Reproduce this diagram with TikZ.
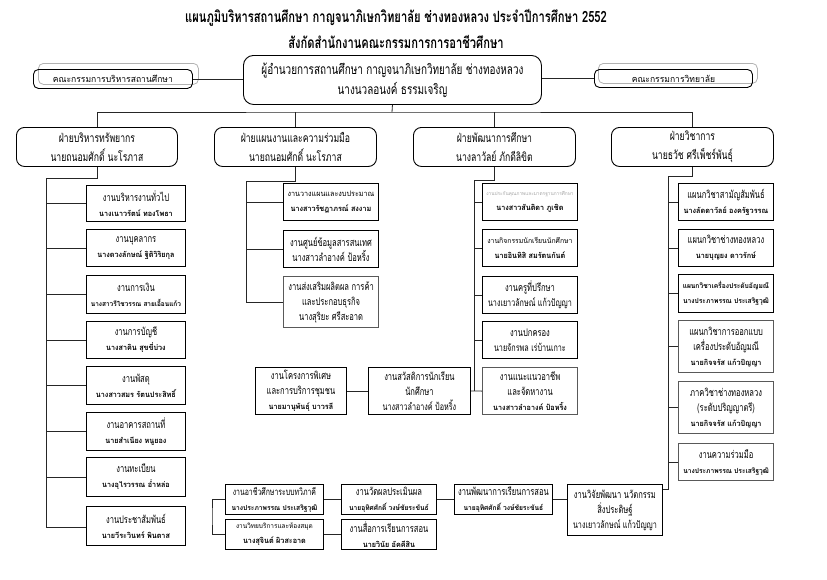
\documentclass[tikz,border=0pt]{standalone}
\usepackage{fontspec}
\setmainfont[Script=Thai]{Loma}
\newfontfamily\thaicond[Script=Thai,FakeStretch=0.72]{Loma}
\newfontfamily\thainm[Script=Thai,FakeStretch=0.95]{Loma}
\tikzset{
  conn/.style={draw=black!85, line width=0.8pt},
  rbox/.style={draw, line width=0.9pt, rounded corners=8pt, inner sep=0pt, align=center, fill=white},
  sbox/.style={draw, line width=0.9pt, inner sep=0pt, align=center, fill=white},
  gbox/.style={sbox, draw=black!65, line width=1.2pt},
  shadowbox/.style={draw=black!30, line width=0.8pt, rounded corners=5pt, inner sep=0pt},
  lab/.style={font=\thaicond\fontsize{10.5}{15}\selectfont},
  deplab/.style={font=\thaicond\fontsize{12}{19}\selectfont},
}
\newcommand\nm[1]{{\thainm\bfseries\fontsize{7.6}{15}\selectfont #1}}
\newcommand\nms[2]{{\thainm\bfseries\fontsize{#1}{15}\selectfont #2}}
\newcommand\sm[2]{{\thainm\fontsize{#1}{15}\selectfont #2}}
\newcommand\bx[7]{%
  \pgfmathsetmacro\bw{#5-#3}\pgfmathsetmacro\bh{#6-#4}%
  \node[#2, anchor=north west, minimum width=\bw pt, minimum height=\bh pt] (#1) at (#3,#4) {#7};}
\begin{document}
\begin{tikzpicture}[x=1pt,y=-1pt]
\useasboundingbox (0,0) rectangle (827,579);
% title
\node[font=\thaicond\bfseries\fontsize{15.5}{16}\selectfont] (t1) at (396,18) {แผนภูมิบริหารสถานศึกษา กาญจนาภิเษกวิทยาลัย ช่างทองหลวง  ประจำปีการศึกษา 2552};
\node[font=\thaicond\bfseries\fontsize{15.5}{16}\selectfont] (t2) at (396,42) {สังกัดสำนักงานคณะกรรมการการอาชีวศึกษา};
% top level
\bx{lcs}{shadowbox}{38}{63}{198}{84}{}
\bx{rcs}{shadowbox}{598}{63}{757}{83}{}
\bx{lc}{rbox,rounded corners=5pt,fill=none}{33}{69}{192}{88}{\sm{9}{คณะกรรมการบริหารสถานศึกษา}}
\bx{rc}{rbox,rounded corners=5pt,fill=none}{594}{69}{752}{87}{\sm{9}{คณะกรรมการวิทยาลัย}}
\bx{ctr}{rbox,rounded corners=10pt,font=\thaicond\fontsize{13.8}{20}\selectfont}{243}{55}{541}{104}{ผู้อำนวยการสถานศึกษา กาญจนาภิเษกวิทยาลัย ช่างทองหลวง\\ นางนวลอนงค์ ธรรมเจริญ}
\draw[conn] (lc.east) -- (ctr.west |- lc.east);
\draw[conn] (rc.west) -- (ctr.east |- rc.west);
% departments
\bx{d1}{rbox,deplab}{16}{127}{177}{166}{ฝ่ายบริหารทรัพยากร\\ นายถนอมศักดิ์ นะโรภาส}
\bx{d2}{rbox,deplab}{214}{127}{376}{166}{ฝ่ายแผนงานและความร่วมมือ\\ นายถนอมศักดิ์ นะโรภาส}
\bx{d3}{rbox,deplab}{413}{127}{575}{166}{ฝ่ายพัฒนาการศึกษา\\ นางลาวัลย์ ภักดีลิขิต}
\bx{d4}{rbox,deplab}{611}{127}{773}{166}{ฝ่ายวิชาการ\\ นายธวัช ศรีเพ็ชร์พันธุ์}
\coordinate (bar) at (392,112);
\draw[conn] (ctr.south) -- (bar);
\draw[conn] (d1.north) |- (bar) -| (d4.north);
\draw[conn] (d2.north) -- (d2.north |- bar);
\draw[conn] (d3.north) -- (d3.north |- bar);
% column 1
\bx{a1}{sbox,lab}{86}{185}{185}{221}{งานบริหารงานทั่วไป\\ \nm{นางเนาวรัตน์ ทองโพธา}}
\bx{a2}{sbox,lab}{86}{229}{185}{266}{งานบุคลากร\\ \nm{นางดวงลักษณ์ ฐิติวิริยกุล}}
\bx{a3}{sbox,lab}{86}{275}{185}{313}{งานการเงิน\\ \nms{6.8}{นางสาวรีไชวรรณ สายเอื้อนแก้ว}}
\bx{a4}{sbox,lab}{86}{321}{185}{358}{งานการบัญชี\\ \nm{นางสาคิน สุขขี่บ่วง}}
\bx{a5}{sbox,lab}{86}{366}{185}{404}{งานพัสดุ\\ \nm{นางสาวสมร รัตนประสิทธิ์}}
\bx{a6}{sbox,lab}{86}{412}{185}{450}{งานอาคารสถานที่\\ \nm{นายสำเนียง หนูยอง}}
\bx{a7}{sbox,lab}{86}{457}{185}{496}{งานทะเบียน\\ \nm{นางอุไรวรรณ อ่ำหล่อ}}
\bx{a8}{sbox,lab}{86}{506}{185}{545}{งานประชาสัมพันธ์\\ \nm{นายวีระวินทร์ พินตาส}}
\coordinate (s1t) at (46,178);
\coordinate (s1b) at (46,527);
\draw[conn] (d1.south) |- (s1t) -- (s1b) -- (s1b -| a8.west);
\foreach \i in {1,...,7} {\draw[conn] (a\i.west) -- (a\i.west -| s1t);}
% column 2
\bx{b1}{sbox,lab}{283}{183}{378}{220}{\sm{7.6}{งานวางแผนและงบประมาณ}\\ \nm{นางสาวรัชฎาภรณ์ สงงาม}}
\bx{b2}{sbox,lab}{283}{230}{378}{267}{งานศูนย์ข้อมูลสารสนเทศ\\ นางสาวลำอางค์ ป้อหริ้ง}
\bx{b3}{gbox,lab}{283}{276}{378}{327}{งานส่งเสริมผลิตผล การค้า\\ และประกอบธุรกิจ\\ นางสุริยะ ศรีสะอาด}
\coordinate (s2t) at (246,181);
\coordinate (s2b) at (246,302);
\draw[conn] (d2.south) |- (s2t) -- (s2b) -- (s2b -| b3.west);
\foreach \i in {1,2} {\draw[conn] (b\i.west) -- (b\i.west -| s2t);}
% column 3
\bx{c1}{sbox,lab}{482}{183}{577}{220}{{\color{black!35}\thainm\fontsize{5}{15}\selectfont งานประกันคุณภาพและมาตรฐานการศึกษา}\\ \nm{นางสาวสันติดา ภูเชิด}}
\bx{c2}{sbox,lab}{482}{229}{577}{266}{\sm{7.2}{งานกิจกรรมนักเรียนนักศึกษา}\\ \nm{นายอินทิสิ สมรัตนกันต์}}
\bx{c3}{sbox,lab}{482}{276}{577}{313}{งานครูที่ปรึกษา\\ {\fontsize{10}{15}\selectfont นางเยาวลักษณ์ แก้วปัญญา}}
\bx{c4}{sbox,lab}{482}{321}{577}{358}{งานปกครอง\\ {\fontsize{10}{15}\selectfont นายจักรพล เร่บ้านเกาะ}}
\bx{c5}{gbox,lab}{482}{367}{577}{414}{งานแนะแนวอาชีพ\\ และจัดหางาน\\ \nm{นางสาวลำอางค์ ป้อหริ้ง}}
\coordinate (s3t) at (474,180);
\coordinate (s3b) at (474,390.5);
\draw[conn] (d3.south) |- (s3t) -- (s3b);
\foreach \i in {1,...,4} {\draw[conn] (c\i.west) -- (c\i.west -| s3t);}
% middle row
\bx{m2}{sbox,lab}{368}{367}{470}{414}{งานสวัสดิการนักเรียน\\ นักศึกษา\\ {\fontsize{10}{15}\selectfont นางสาวลำอางค์ ป้อหริ้ง}}
\bx{m1}{sbox,lab}{255}{367}{346}{414}{งานโครงการพิเศษ\\ และการบริการชุมชน\\ \nm{นายมานุพันธุ์ บาวรลี}}
\draw[conn] (m2.east) -- (c5.west);
\draw[conn] (m1.east) -- (m2.west);
% column 4
\bx{e1}{sbox,lab}{678}{183}{773}{220}{แผนกวิชาสามัญสัมพันธ์\\ \nm{นางลัดดาวัลย์ องครัฐวรรณ}}
\bx{e2}{sbox,lab}{678}{229}{773}{266}{แผนกวิชาช่างทองหลวง\\ \nm{นายบุญยง ดาวรักษ์}}
\bx{e3}{sbox,lab}{678}{274}{773}{312}{\nms{7}{แผนกวิชาเครื่องประดับอัญมณี}\\ \nms{7}{นางประภาพรรณ ประเสริฐวุฒิ}}
\bx{e4}{gbox,lab}{678}{320}{773}{372}{แผนกวิชาการออกแบบ\\ เครื่องประดับอัญมณี\\ \nm{นายกิจจรัส แก้วปัญญา}}
\bx{e5}{gbox,lab}{678}{381}{773}{433}{ภาควิชาช่างทองหลวง\\ (ระดับปริญญาตรี)\\ \nm{นายกิจจรัส แก้วปัญญา}}
\bx{e6}{gbox,lab}{678}{443}{773}{480}{งานความร่วมมือ\\ \nms{7}{นางประภาพรรณ ประเสริฐวุฒิ}}
% bottom row
\bx{f1}{sbox,lab}{225}{484}{323}{514}{{\fontsize{9.6}{15}\selectfont งานอาชีวศึกษาระบบทวิภาคี}\\ \nms{7}{นางประภาพรรณ ประเสริฐวุฒิ}}
\bx{f2}{sbox,lab}{225}{519}{323}{549}{\sm{6.8}{งานวิทยบริการและห้องสมุด}\\ \nm{นางสุจินต์ ผิวสะอาด}}
\bx{f3}{sbox,lab}{341}{484}{436}{514}{งานวัดผลประเมินผล\\ \nms{7}{นายอุทิศศักดิ์ วงษ์ชัยระขันธ์}}
\bx{f4}{sbox,lab}{341}{519}{436}{549}{งานสื่อการเรียนการสอน\\ \nm{นายวินัย อัคคีสิน}}
\bx{f5}{sbox,lab}{454}{484}{552}{514}{งานพัฒนาการเรียนการสอน\\ \nms{7}{นายอุทิศศักดิ์ วงษ์ชัยระขันธ์}}
\bx{f6}{sbox,lab}{567}{484}{662}{535}{งานวิจัยพัฒนา นวัตกรรม\\ สิ่งประดิษฐ์\\ {\fontsize{10}{15}\selectfont นางเยาวลักษณ์ แก้วปัญญา}}
\coordinate (s4t) at (668,176);
\coordinate (s4b) at (668,489);
\draw[conn] (d4.south) |- (s4t) -- (s4b) -- (s4b -| f6.east);
\foreach \i in {1,...,6} {\draw[conn] (e\i.west) -- (e\i.west -| s4t);}
\coordinate (brk) at (212,516);
\draw[conn] (f1.west) -| (brk) |- (f2.west);
\draw[conn] (f1.east) -- (f3.west);
\draw[conn] (f3.east) -- (f5.west);
\draw[conn] (f5.east) -- (f5.east -| f6.west);
\draw[conn] (f2.east) -- (f4.west);
\end{tikzpicture}
\end{document}
